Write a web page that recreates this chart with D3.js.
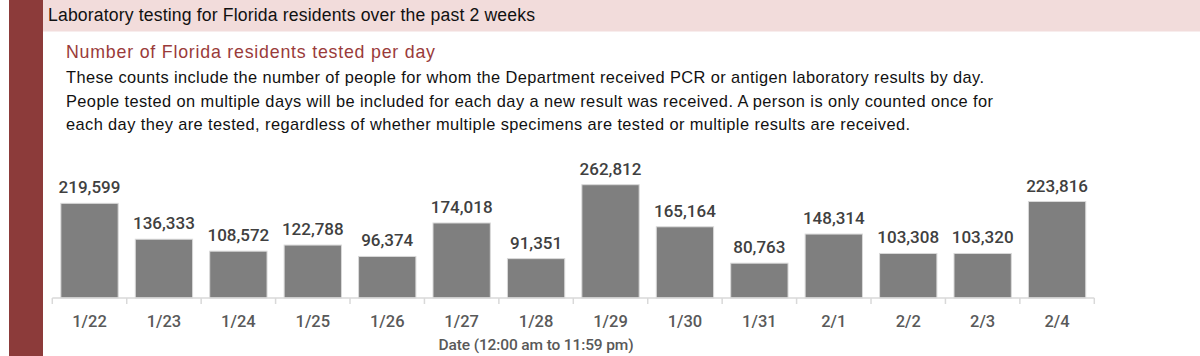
<!DOCTYPE html>
<html><head><meta charset="utf-8">
<script src="https://cdn.jsdelivr.net/npm/d3@7"></script>
<style>html,body{margin:0;padding:0;background:#fff;}svg{display:block;}</style>
</head><body>
<svg id="chart" width="1200" height="356"></svg>
<script>
const dates = ["1/22","1/23","1/24","1/25","1/26","1/27","1/28","1/29","1/30","1/31","2/1","2/2","2/3","2/4"];
const tested = [219599,136333,108572,122788,96374,174018,91351,262812,165164,80763,148314,103308,103320,223816];
const headerText = "Laboratory testing for Florida residents over the past 2 weeks";
const subtitleText = "Number of Florida residents tested per day";
const bodyLines = [
  "These counts include the number of people for whom the Department received PCR or antigen laboratory results by day.",
  "People tested on multiple days will be included for each day a new result was received. A person is only counted once for",
  "each day they are tested, regardless of whether multiple specimens are tested or multiple results are received."
];
const axisTitle = "Date (12:00 am to 11:59 pm)";

const svg = d3.select("#chart");
const font = "'Liberation Sans', Arial, sans-serif";
const numFont = "Roboto, 'Liberation Sans', sans-serif";

// side bar and header band
svg.append("rect").attr("x",9).attr("y",0).attr("width",34).attr("height",356).attr("fill","#8c3b3a");
svg.append("rect").attr("x",43).attr("y",0).attr("width",1157).attr("height",31.5).attr("fill","#f2dcdb");
svg.append("text").attr("x",48).attr("y",21).attr("font-family",font).attr("font-size",17.6)
  .attr("fill","#111").attr("textLength",487).attr("lengthAdjust","spacing").text(headerText);
svg.append("text").attr("x",66).attr("y",58).attr("font-family",font).attr("font-size",17.8)
  .attr("fill","#9a3b3a").attr("textLength",369).attr("lengthAdjust","spacing").text(subtitleText);
const bodyY = [83.3,106.8,130.3];
const bodyW = [918,927,844];
bodyLines.forEach((t,i)=>{
  svg.append("text").attr("x",66).attr("y",bodyY[i]).attr("font-family",font).attr("font-size",16.4)
    .attr("fill","#111").attr("textLength",bodyW[i]).attr("lengthAdjust","spacing").text(t);
});

// chart
const x = d3.scaleBand().domain(dates).range([52.3,1094.3]).paddingInner(0.23).paddingOuter(0.115);
const baseY = 298;
const y = d3.scaleLinear().domain([0,262812]).range([baseY, 184.7]);

const g = svg.append("g");
g.selectAll("rect.bar").data(dates).join("rect").attr("class","bar")
  .attr("x",d=>x(d)).attr("width",x.bandwidth())
  .attr("y",(d,i)=>y(tested[i])).attr("height",(d,i)=>baseY-y(tested[i]))
  .attr("fill","#7f7f7f").attr("stroke","#d9d9d9").attr("stroke-width",1);

g.selectAll("text.val").data(dates).join("text").attr("class","val")
  .attr("x",d=>x(d)+x.bandwidth()/2).attr("y",(d,i)=>y(tested[i])-10)
  .attr("text-anchor","middle").attr("font-family",numFont).attr("font-weight",500)
  .attr("font-size",17).attr("fill","#404040")
  .text((d,i)=>d3.format(",")(tested[i]));

// axis
const axisG = svg.append("g").attr("transform",`translate(0,${baseY})`);
axisG.append("line").attr("x1",52.3).attr("x2",1094.3).attr("y1",0).attr("y2",0)
  .attr("stroke","#d9d9d9").attr("stroke-width",1.5);
const step = x.step();
const tickXs = dates.map(d=>x(d)-x.paddingInner()*step/2);
tickXs.push(x(dates[dates.length-1])+x.bandwidth()+x.paddingInner()*step/2);
axisG.selectAll("line.tk").data(tickXs).join("line").attr("class","tk")
  .attr("x1",d=>d).attr("x2",d=>d).attr("y1",0).attr("y2",6)
  .attr("stroke","#d9d9d9").attr("stroke-width",1.5);
axisG.selectAll("text.lab").data(dates).join("text").attr("class","lab")
  .attr("x",d=>x(d)+x.bandwidth()/2).attr("y",28.7)
  .attr("text-anchor","middle").attr("font-family",numFont).attr("font-weight",500)
  .attr("font-size",16.5).attr("fill","#595959").text(d=>d);
svg.append("text").attr("x",x("1/28")+x.bandwidth()/2).attr("y",349.5)
  .attr("text-anchor","middle").attr("font-family",numFont).attr("font-weight",500)
  .attr("font-size",15.5).attr("fill","#595959").attr("textLength",195).attr("lengthAdjust","spacing").text(axisTitle);
</script>
</body></html>
